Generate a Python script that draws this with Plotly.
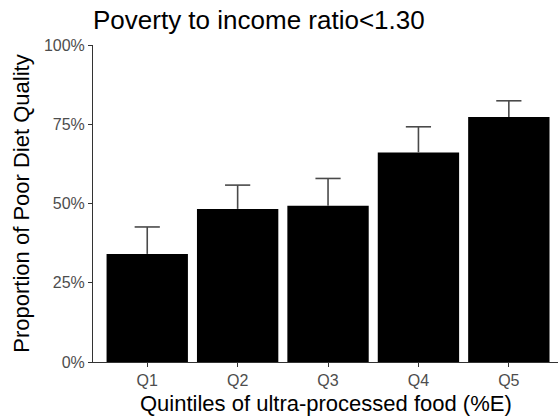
import plotly.graph_objects as go

quintiles = ["Q1", "Q2", "Q3", "Q4", "Q5"]
proportion = [0.341, 0.483, 0.493, 0.661, 0.773]
upper_err = [0.085, 0.075, 0.086, 0.081, 0.051]
y_ticks = [0, 0.25, 0.5, 0.75, 1.0]
y_tick_labels = ["0%", "25%", "50%", "75%", "100%"]

W, H = 558, 419
left, right, top, bottom = 93, 0, 45, 57
plot_h = H - top - bottom
font_family = "Liberation Sans, Arial, sans-serif"
err_color = "#4a4a4a"

xpos = list(range(1, len(quintiles) + 1))

fig = go.Figure()
fig.add_trace(
    go.Bar(
        x=xpos,
        y=proportion,
        width=0.9,
        marker=dict(color="black", line=dict(width=0)),
        hoverinfo="skip",
    )
)

# upper-only error bars: a stem from the bar top plus a horizontal cap
stem_x, stem_y = [], []
for x, v, e in zip(xpos, proportion, upper_err):
    stem_x += [x, x, None]
    stem_y += [v, v + e, None]
fig.add_trace(
    go.Scatter(
        x=stem_x,
        y=stem_y,
        mode="lines",
        line=dict(color=err_color, width=1.6),
        hoverinfo="skip",
    )
)
fig.add_trace(
    go.Scatter(
        x=xpos,
        y=[v + e for v, e in zip(proportion, upper_err)],
        mode="markers",
        marker=dict(symbol="line-ew", size=18, line=dict(color=err_color, width=1.6)),
        hoverinfo="skip",
    )
)

fig.update_layout(
    width=W,
    height=H,
    margin=dict(l=left, r=right, t=top, b=bottom),
    plot_bgcolor="white",
    paper_bgcolor="white",
    showlegend=False,
    font=dict(family=font_family),
    title=dict(
        text="Poverty to income ratio<1.30",
        x=left / W,
        xanchor="left",
        xref="container",
        y=1 - 20 / H,
        yanchor="middle",
        yref="container",
        font=dict(size=26, color="black", family=font_family),
    ),
    annotations=[
        dict(
            text="Quintiles of ultra-processed food (%E)",
            xref="paper",
            yref="paper",
            x=0.5,
            y=-41 / plot_h,
            xanchor="center",
            yanchor="middle",
            showarrow=False,
            font=dict(size=22, color="black", family=font_family),
        )
    ],
)

fig.update_xaxes(
    range=[0.4, 0.4 + (W - left) / 90.4],
    tickmode="array",
    tickvals=xpos,
    ticktext=quintiles,
    showline=True,
    linecolor="#333333",
    linewidth=1,
    ticks="outside",
    ticklen=4,
    tickcolor="#333333",
    tickfont=dict(size=16, color="#4d4d4d"),
    showgrid=False,
    zeroline=False,
)

fig.update_yaxes(
    range=[0, 1],
    tickmode="array",
    tickvals=y_ticks,
    ticktext=y_tick_labels,
    showline=True,
    linecolor="#333333",
    linewidth=1,
    ticks="outside",
    ticklen=4,
    tickcolor="#333333",
    tickfont=dict(size=16, color="#4d4d4d"),
    showgrid=False,
    zeroline=False,
    title=dict(
        text="Proportion of Poor Diet Quality",
        font=dict(size=22, color="black"),
        standoff=8,
    ),
)

fig.write_html("out.html")
